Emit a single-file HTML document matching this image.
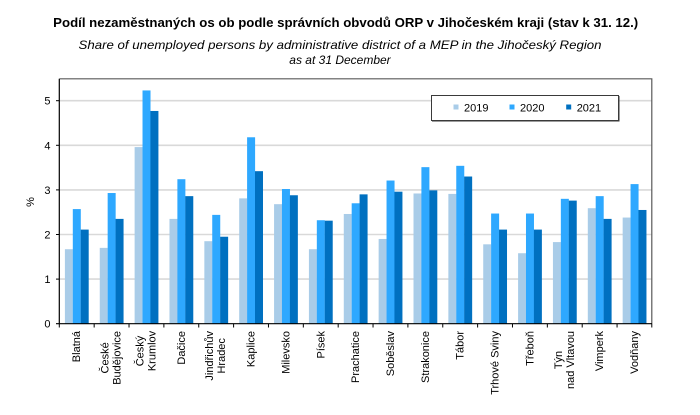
<!DOCTYPE html>
<html><head><meta charset="utf-8"><style>
html,body{margin:0;padding:0;background:#fff;}
svg{display:block;font-family:"Liberation Sans",Arial,sans-serif;}
</style></head><body>
<svg width="700" height="415" viewBox="0 0 700 415" xmlns="http://www.w3.org/2000/svg">
<rect width="700" height="415" fill="#fff"/>
<text x="345.7" y="27" font-size="12.5" font-weight="bold" text-anchor="middle" textLength="585" lengthAdjust="spacingAndGlyphs" fill="#000">Podíl nezaměstnaných os ob podle správních obvodů ORP v Jihočeském kraji (stav k 31. 12.)</text>
<text x="340" y="49" font-size="12" font-style="italic" text-anchor="middle" textLength="523" lengthAdjust="spacingAndGlyphs" fill="#000">Share of unemployed persons by administrative district of a MEP in the Jihočeský Region</text>
<text x="340" y="64" font-size="12" font-style="italic" text-anchor="middle" fill="#000">as at 31 December</text>

<!-- gridlines -->
<g stroke="#d9d9d9" stroke-width="1.6">
<line x1="59" y1="279.1" x2="652" y2="279.1"/>
<line x1="59" y1="234.5" x2="652" y2="234.5"/>
<line x1="59" y1="189.9" x2="652" y2="189.9"/>
<line x1="59" y1="145.3" x2="652" y2="145.3"/>
<line x1="59" y1="100.7" x2="652" y2="100.7"/>
</g>
<!-- plot border top/right -->
<polyline points="59.5,78.8 651.8,78.8 651.8,323.7" fill="none" stroke="#5a5a5a" stroke-width="1.2"/>

<!-- bars -->
<g>
<g transform="translate(59.30,0)"><rect x="5.6" y="249.22" width="8" height="74.48" fill="#a9cce8"/><rect x="13.5" y="209.08" width="8" height="114.62" fill="#2ea8ff"/><rect x="21.4" y="229.59" width="8" height="94.11" fill="#0070c0"/></g>
<g transform="translate(94.16,0)"><rect x="5.6" y="247.88" width="8" height="75.82" fill="#a9cce8"/><rect x="13.5" y="193.02" width="8" height="130.68" fill="#2ea8ff"/><rect x="21.4" y="218.89" width="8" height="104.81" fill="#0070c0"/></g>
<g transform="translate(129.02,0)"><rect x="5.6" y="147.08" width="8" height="176.62" fill="#a9cce8"/><rect x="13.5" y="90.44" width="8" height="233.26" fill="#2ea8ff"/><rect x="21.4" y="110.96" width="8" height="212.74" fill="#0070c0"/></g>
<g transform="translate(163.88,0)"><rect x="5.6" y="218.89" width="8" height="104.81" fill="#a9cce8"/><rect x="13.5" y="179.20" width="8" height="144.50" fill="#2ea8ff"/><rect x="21.4" y="196.14" width="8" height="127.56" fill="#0070c0"/></g>
<g transform="translate(198.74,0)"><rect x="5.6" y="241.19" width="8" height="82.51" fill="#a9cce8"/><rect x="13.5" y="214.88" width="8" height="108.82" fill="#2ea8ff"/><rect x="21.4" y="236.73" width="8" height="86.97" fill="#0070c0"/></g>
<g transform="translate(233.60,0)"><rect x="5.6" y="198.37" width="8" height="125.33" fill="#a9cce8"/><rect x="13.5" y="137.27" width="8" height="186.43" fill="#2ea8ff"/><rect x="21.4" y="171.17" width="8" height="152.53" fill="#0070c0"/></g>
<g transform="translate(268.46,0)"><rect x="5.6" y="204.17" width="8" height="119.53" fill="#a9cce8"/><rect x="13.5" y="189.01" width="8" height="134.69" fill="#2ea8ff"/><rect x="21.4" y="195.25" width="8" height="128.45" fill="#0070c0"/></g>
<g transform="translate(303.32,0)"><rect x="5.6" y="249.22" width="8" height="74.48" fill="#a9cce8"/><rect x="13.5" y="220.23" width="8" height="103.47" fill="#2ea8ff"/><rect x="21.4" y="220.67" width="8" height="103.03" fill="#0070c0"/></g>
<g transform="translate(338.18,0)"><rect x="5.6" y="213.98" width="8" height="109.72" fill="#a9cce8"/><rect x="13.5" y="203.28" width="8" height="120.42" fill="#2ea8ff"/><rect x="21.4" y="194.36" width="8" height="129.34" fill="#0070c0"/></g>
<g transform="translate(373.04,0)"><rect x="5.6" y="238.96" width="8" height="84.74" fill="#a9cce8"/><rect x="13.5" y="180.53" width="8" height="143.17" fill="#2ea8ff"/><rect x="21.4" y="191.68" width="8" height="132.02" fill="#0070c0"/></g>
<g transform="translate(407.90,0)"><rect x="5.6" y="193.47" width="8" height="130.23" fill="#a9cce8"/><rect x="13.5" y="167.15" width="8" height="156.55" fill="#2ea8ff"/><rect x="21.4" y="190.35" width="8" height="133.35" fill="#0070c0"/></g>
<g transform="translate(442.76,0)"><rect x="5.6" y="193.91" width="8" height="129.79" fill="#a9cce8"/><rect x="13.5" y="165.82" width="8" height="157.88" fill="#2ea8ff"/><rect x="21.4" y="176.52" width="8" height="147.18" fill="#0070c0"/></g>
<g transform="translate(477.62,0)"><rect x="5.6" y="244.31" width="8" height="79.39" fill="#a9cce8"/><rect x="13.5" y="213.54" width="8" height="110.16" fill="#2ea8ff"/><rect x="21.4" y="229.59" width="8" height="94.11" fill="#0070c0"/></g>
<g transform="translate(512.48,0)"><rect x="5.6" y="253.23" width="8" height="70.47" fill="#a9cce8"/><rect x="13.5" y="213.54" width="8" height="110.16" fill="#2ea8ff"/><rect x="21.4" y="229.59" width="8" height="94.11" fill="#0070c0"/></g>
<g transform="translate(547.34,0)"><rect x="5.6" y="242.08" width="8" height="81.62" fill="#a9cce8"/><rect x="13.5" y="198.82" width="8" height="124.88" fill="#2ea8ff"/><rect x="21.4" y="200.60" width="8" height="123.10" fill="#0070c0"/></g>
<g transform="translate(582.20,0)"><rect x="5.6" y="208.19" width="8" height="115.51" fill="#a9cce8"/><rect x="13.5" y="196.14" width="8" height="127.56" fill="#2ea8ff"/><rect x="21.4" y="218.89" width="8" height="104.81" fill="#0070c0"/></g>
<g transform="translate(617.06,0)"><rect x="5.6" y="217.55" width="8" height="106.15" fill="#a9cce8"/><rect x="13.5" y="184.10" width="8" height="139.60" fill="#2ea8ff"/><rect x="21.4" y="209.97" width="8" height="113.73" fill="#0070c0"/></g>
</g>

<!-- axes -->
<line x1="59.3" y1="78.8" x2="59.3" y2="324.2" stroke="#000" stroke-width="1.2"/>
<line x1="56" y1="323.7" x2="652" y2="323.7" stroke="#000" stroke-width="1.2"/>
<g stroke="#000" stroke-width="1">
<line x1="56" y1="279.1" x2="59" y2="279.1"/>
<line x1="56" y1="234.5" x2="59" y2="234.5"/>
<line x1="56" y1="189.9" x2="59" y2="189.9"/>
<line x1="56" y1="145.3" x2="59" y2="145.3"/>
<line x1="56" y1="100.7" x2="59" y2="100.7"/>
<line x1="94.16" y1="323.7" x2="94.16" y2="327.5"/>
<line x1="129.02" y1="323.7" x2="129.02" y2="327.5"/>
<line x1="163.88" y1="323.7" x2="163.88" y2="327.5"/>
<line x1="198.74" y1="323.7" x2="198.74" y2="327.5"/>
<line x1="233.60" y1="323.7" x2="233.60" y2="327.5"/>
<line x1="268.46" y1="323.7" x2="268.46" y2="327.5"/>
<line x1="303.32" y1="323.7" x2="303.32" y2="327.5"/>
<line x1="338.18" y1="323.7" x2="338.18" y2="327.5"/>
<line x1="373.04" y1="323.7" x2="373.04" y2="327.5"/>
<line x1="407.90" y1="323.7" x2="407.90" y2="327.5"/>
<line x1="442.76" y1="323.7" x2="442.76" y2="327.5"/>
<line x1="477.62" y1="323.7" x2="477.62" y2="327.5"/>
<line x1="512.48" y1="323.7" x2="512.48" y2="327.5"/>
<line x1="547.34" y1="323.7" x2="547.34" y2="327.5"/>
<line x1="582.20" y1="323.7" x2="582.20" y2="327.5"/>
<line x1="617.06" y1="323.7" x2="617.06" y2="327.5"/>
<line x1="651.8" y1="323.7" x2="651.8" y2="327.5"/>
<line x1="59.3" y1="323.7" x2="59.3" y2="327.5"/>
</g>

<!-- y labels -->
<g font-size="11" text-anchor="end" fill="#000">
<text x="50.5" y="327.7">0</text>
<text x="50.5" y="283.1">1</text>
<text x="50.5" y="238.5">2</text>
<text x="50.5" y="193.9">3</text>
<text x="50.5" y="149.3">4</text>
<text x="50.5" y="104.7">5</text>
</g>
<text transform="translate(34,202) rotate(-90)" font-size="11" text-anchor="middle" fill="#000">%</text>

<!-- x labels -->
<g font-size="11" fill="#000">
<text transform="translate(80.2,331) rotate(-90)" text-anchor="end">Blatná</text>
<text transform="translate(108.6,357.9) rotate(-90)" text-anchor="middle">České</text>
<text transform="translate(120.6,357.9) rotate(-90)" text-anchor="middle">Budějovice</text>
<text transform="translate(143.45,351) rotate(-90)" text-anchor="middle">Český</text>
<text transform="translate(155.45,351) rotate(-90)" text-anchor="middle">Krumlov</text>
<text transform="translate(184.8,331) rotate(-90)" text-anchor="end">Dačice</text>
<text transform="translate(213.2,355.8) rotate(-90)" text-anchor="middle">Jindřichův</text>
<text transform="translate(225.2,355.8) rotate(-90)" text-anchor="middle">Hradec</text>
<text transform="translate(254.5,331) rotate(-90)" text-anchor="end">Kaplice</text>
<text transform="translate(289.4,331) rotate(-90)" text-anchor="end">Milevsko</text>
<text transform="translate(324.25,331) rotate(-90)" text-anchor="end">Písek</text>
<text transform="translate(359.1,331) rotate(-90)" text-anchor="end">Prachatice</text>
<text transform="translate(394,331) rotate(-90)" text-anchor="end">Soběslav</text>
<text transform="translate(428.8,331) rotate(-90)" text-anchor="end">Strakonice</text>
<text transform="translate(463.7,331) rotate(-90)" text-anchor="end">Tábor</text>
<text transform="translate(498.5,331) rotate(-90)" text-anchor="end">Trhové Sviny</text>
<text transform="translate(533.4,331) rotate(-90)" text-anchor="end">Třeboň</text>
<text transform="translate(561.8,360) rotate(-90)" text-anchor="middle">Týn</text>
<text transform="translate(573.8,360) rotate(-90)" text-anchor="middle">nad Vltavou</text>
<text transform="translate(603.1,331) rotate(-90)" text-anchor="end">Vimperk</text>
<text transform="translate(638,331) rotate(-90)" text-anchor="end">Vodňany</text>
</g>

<!-- legend -->
<rect x="431.5" y="95.5" width="187" height="25" fill="#fff" stroke="#3a3a3a" stroke-width="1"/>
<line x1="619" y1="96" x2="619" y2="121.5" stroke="#3a3a3a" stroke-width="1"/>
<line x1="432" y1="121" x2="619.5" y2="121" stroke="#3a3a3a" stroke-width="1"/>
<rect x="453.5" y="104.5" width="5" height="5" fill="#a9cce8"/>
<rect x="509.5" y="104.5" width="5" height="5" fill="#2ea8ff"/>
<rect x="566.2" y="104.5" width="5" height="5" fill="#0070c0"/>
<g font-size="11" fill="#000">
<text x="464" y="111.5">2019</text>
<text x="520" y="111.5">2020</text>
<text x="576.7" y="111.5">2021</text>
</g>
</svg>
</body></html>
